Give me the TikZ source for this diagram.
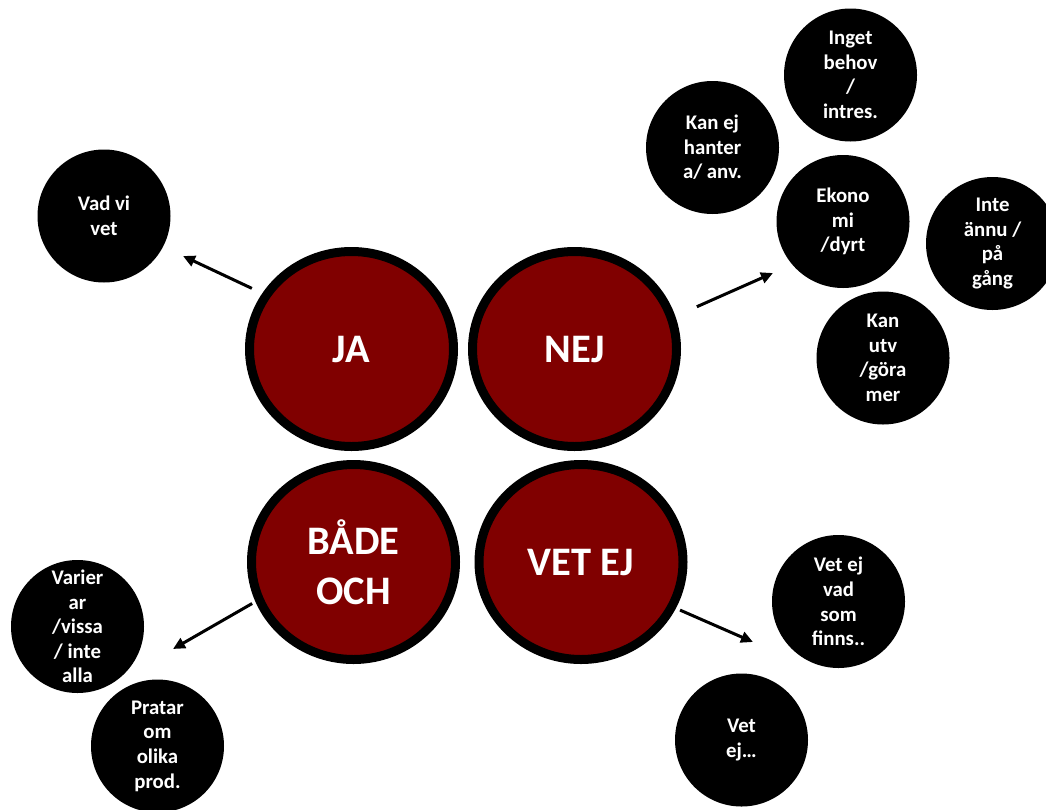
\documentclass[tikz,border=0pt]{standalone}
\usepackage{fontspec}
\setmainfont{Carlito}
\usetikzlibrary{shapes.geometric,arrows.meta}
\definecolor{bigred}{RGB}{128,0,0}
\begin{document}
\begin{tikzpicture}[x=1pt,y=-1pt,
  bigc/.style={ellipse, draw=black, line width=9pt, fill=bigred, minimum width=204pt, minimum height=195pt, inner sep=0pt, text=white, font=\bfseries\fontsize{40.5}{50}\selectfont, align=center},
  smallc/.style={circle, fill=black, minimum size=133pt, inner sep=0pt, outer sep=0pt, text=white, font=\bfseries\fontsize{20.8}{24.6}\selectfont, align=center},
  arr/.style={line width=3pt, -{Triangle[length=12pt,width=11pt]}}]
\useasboundingbox (0,0) rectangle (1046,809);

\node[bigc] (ja) at (351.5,349) {JA};
\node[bigc] (nej) at (574.5,349) {NEJ};
\node[bigc] (bade) at (353.5,562) {BÅDE\\OCH};
\node[bigc] (vetej) at (581,562) {VET EJ};

\node[smallc] (vad) at (104,216) {Vad vi\\vet};
\node[smallc] (inget) at (850.5,75) {Inget\\behov\\/\\intres.};
\node[smallc] (kanej) at (712.5,147.5) {Kan ej\\hanter\\a/ anv.};
\node[smallc] (ekono) at (843,221.5) {Ekono\\mi\\/dyrt};
\node[smallc] (inte) at (992.5,243.5) {Inte\\ännu /\\på\\gång};
\node[smallc] (kanutv) at (883,358) {Kan\\utv\\/göra\\mer};
\node[smallc] (varier) at (77.5,626.5) {Varier\\ar\\/vissa\\/ inte\\alla};
\node[smallc] (pratar) at (157.5,746) {Pratar\\om\\olika\\prod.};
\node[smallc] (vetvad) at (838.5,601.5) {Vet ej\\vad\\som\\finns..};
\node[smallc] (vetej2) at (741.5,740) {Vet\\ej…};

\coordinate (h1) at (183,256);
\draw[arr, shorten <=11.5pt] (ja.148.5) -- (h1);
\coordinate (h2) at (773,273);
\draw[arr, shorten <=23.5pt] (nej.18.9) -- (h2);
\coordinate (h3) at (173,649);
\draw[arr, shorten <=3.7pt] (bade.202) -- (h3);
\coordinate (h4) at (753,642);
\draw[arr, shorten <=4.5pt] (vetej.334.1) -- (h4);
\end{tikzpicture}
\end{document}
